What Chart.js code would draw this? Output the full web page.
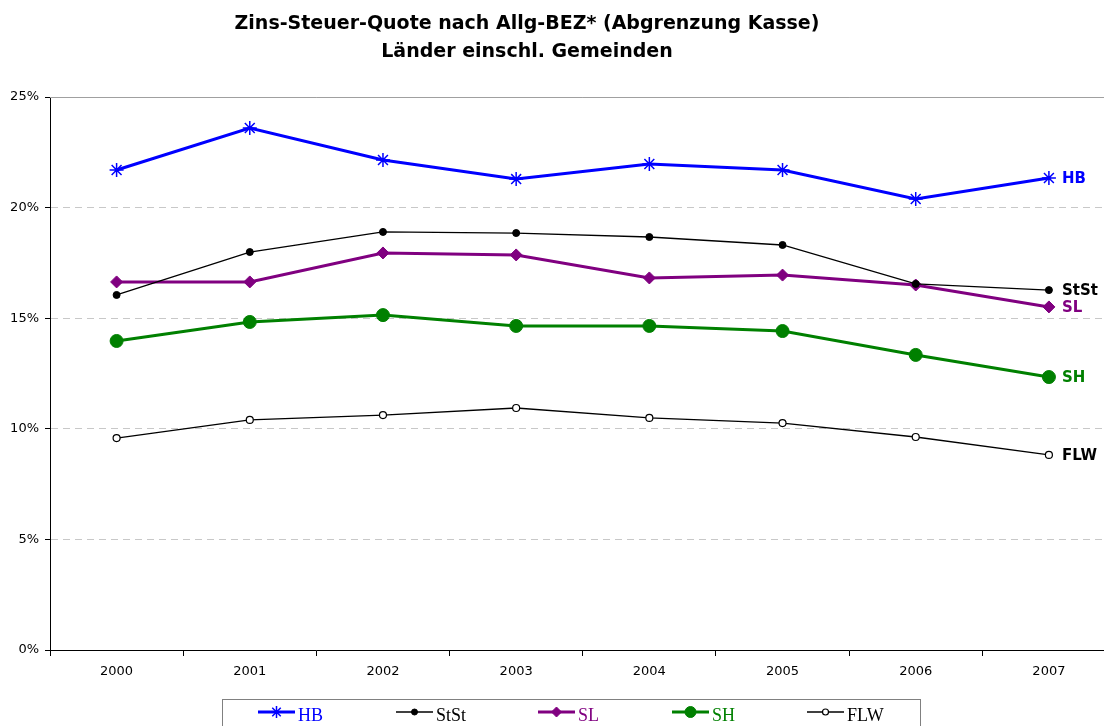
<!DOCTYPE html>
<html>
<head>
<meta charset="utf-8">
<script src="https://cdn.jsdelivr.net/npm/chart.js@4/dist/chart.umd.min.js"></script>
<style>
  body { margin: 0; overflow: hidden; background: #fff; }
  #wrap { position: relative; width: 1104px; height: 726px; overflow: hidden; }
  #title {
    position: absolute; left: 0; top: 8px; width: 1054px;
    text-align: center; font: bold 19px "DejaVu Sans", sans-serif;
    line-height: 28px; color: #000;
  }
  canvas { position: absolute; left: 0; top: 0; }
</style>
</head>
<body>
<div id="wrap">
  <canvas id="c" width="1124" height="726"></canvas>
  <div id="title">Zins-Steuer-Quote nach Allg-BEZ* (Abgrenzung Kasse)<br>Länder einschl. Gemeinden</div>
</div>
<script>
const years = ["2000", "2001", "2002", "2003", "2004", "2005", "2006", "2007"];
const hb   = [21.70, 23.60, 22.15, 21.29, 21.97, 21.70, 20.39, 21.34];
const stst = [16.05, 17.99, 18.90, 18.85, 18.67, 18.31, 16.55, 16.27];
const sl   = [16.64, 16.64, 17.95, 17.86, 16.82, 16.95, 16.50, 15.51];
const sh   = [13.97, 14.83, 15.14, 14.65, 14.65, 14.42, 13.34, 12.34];
const flw  = [9.58, 10.40, 10.62, 10.94, 10.49, 10.26, 9.63, 8.82];
const yTicks = [0, 5, 10, 15, 20, 25];

const sansFont = "'DejaVu Sans', sans-serif";

// top border line of the plot, solid
const topLine = {
  id: 'topLine',
  beforeDatasetsDraw(chart) {
    const a = chart.chartArea, ctx = chart.ctx;
    ctx.save();
    ctx.strokeStyle = '#a0a0a0';
    ctx.lineWidth = 1;
    ctx.beginPath();
    ctx.moveTo(a.left, Math.round(a.top) + 0.5);
    ctx.lineTo(a.right, Math.round(a.top) + 0.5);
    ctx.stroke();
    ctx.restore();
  }
};

// series names right of the last point
const endLabels = {
  id: 'endLabels',
  afterDatasetsDraw(chart) {
    const ctx = chart.ctx;
    ctx.save();
    ctx.font = "bold 15px " + sansFont;
    ctx.textBaseline = 'middle';
    chart.data.datasets.forEach((ds, i) => {
      const pts = chart.getDatasetMeta(i).data;
      const p = pts[pts.length - 1];
      ctx.fillStyle = ds.borderColor;
      ctx.fillText(ds.label, p.x + 13, p.y + 1);
    });
    ctx.restore();
  }
};

// legend box at the bottom, Excel style
const legendBox = {
  id: 'legendBox',
  afterDraw(chart) {
    const ctx = chart.ctx;
    const starts = [258, 396, 538, 672, 807];
    const legendRadius = [6, 3, 5, 5.5, 3];
    const y = 712;
    ctx.save();
    ctx.strokeStyle = '#808080';
    ctx.lineWidth = 1;
    ctx.strokeRect(222.5, 699.5, 698, 40);
    ctx.font = "18px 'Liberation Serif', serif";
    ctx.textBaseline = 'alphabetic';
    chart.data.datasets.forEach((ds, i) => {
      const x0 = starts[i];
      ctx.strokeStyle = ds.borderColor;
      ctx.lineWidth = ds.borderWidth;
      ctx.beginPath();
      ctx.moveTo(x0, y);
      ctx.lineTo(x0 + 37, y);
      ctx.stroke();
      ctx.fillStyle = ds.pointBackgroundColor;
      ctx.strokeStyle = ds.pointBorderColor;
      ctx.lineWidth = ds.pointBorderWidth;
      Chart.helpers.drawPoint(ctx, {
        pointStyle: ds.pointStyle,
        radius: legendRadius[i],
        rotation: 0,
        borderWidth: ds.pointBorderWidth
      }, x0 + 18.5, y);
      ctx.fillStyle = ds.legendText;
      ctx.fillText(ds.label, x0 + 40, y + 9);
    });
    ctx.restore();
  }
};

new Chart(document.getElementById('c'), {
  type: 'line',
  data: {
    labels: years,
    datasets: [
      { label: 'HB', data: hb, borderColor: '#0000ff', borderWidth: 3,
        pointStyle: 'star', pointRadius: 7, pointBorderWidth: 1.5,
        pointBackgroundColor: '#0000ff', pointBorderColor: '#0000ff', legendText: '#0000ff' },
      { label: 'StSt', data: stst, borderColor: '#000000', borderWidth: 1.3,
        pointStyle: 'circle', pointRadius: 3.5, pointBorderWidth: 1,
        pointBackgroundColor: '#000000', pointBorderColor: '#000000', legendText: '#000000' },
      { label: 'SL', data: sl, borderColor: '#800080', borderWidth: 3,
        pointStyle: 'rectRot', pointRadius: 6, pointBorderWidth: 1,
        pointBackgroundColor: '#800080', pointBorderColor: '#800080', legendText: '#800080' },
      { label: 'SH', data: sh, borderColor: '#008000', borderWidth: 3,
        pointStyle: 'circle', pointRadius: 6.5, pointBorderWidth: 1,
        pointBackgroundColor: '#008000', pointBorderColor: '#008000', legendText: '#008000' },
      { label: 'FLW', data: flw, borderColor: '#000000', borderWidth: 1.3,
        pointStyle: 'circle', pointRadius: 3.5, pointBorderWidth: 1.2,
        pointBackgroundColor: '#ffffff', pointBorderColor: '#000000', legendText: '#000000' }
    ]
  },
  options: {
    responsive: false,
    animation: false,
    layout: { padding: { top: 97, right: 0, left: 0, bottom: 0 } },
    elements: { line: { tension: 0 } },
    plugins: {
      legend: { display: false },
      title: { display: false },
      tooltip: { enabled: false }
    },
    scales: {
      x: {
        offset: true,
        grid: { offset: true, drawOnChartArea: false, tickLength: 6, tickColor: '#000', color: '#000' },
        border: { color: '#000', width: 1 },
        ticks: { color: '#000', font: { family: sansFont, size: 13 }, padding: 8 },
        afterFit(s) { s.height = 76; }
      },
      y: {
        min: 0, max: 25,
        afterBuildTicks(s) { s.ticks = yTicks.map(v => ({ value: v })); },
        grid: { color: '#c8c8c8', tickColor: '#000', tickLength: 5, drawTicks: true },
        border: { color: '#000', width: 1, dash: [7, 5] },
        ticks: { color: '#000', font: { family: sansFont, size: 13 }, padding: 6,
                 callback: v => v + '%' },
        afterFit(s) { s.width = 50; }
      }
    }
  },
  plugins: [topLine, endLabels, legendBox]
});
</script>
</body>
</html>
